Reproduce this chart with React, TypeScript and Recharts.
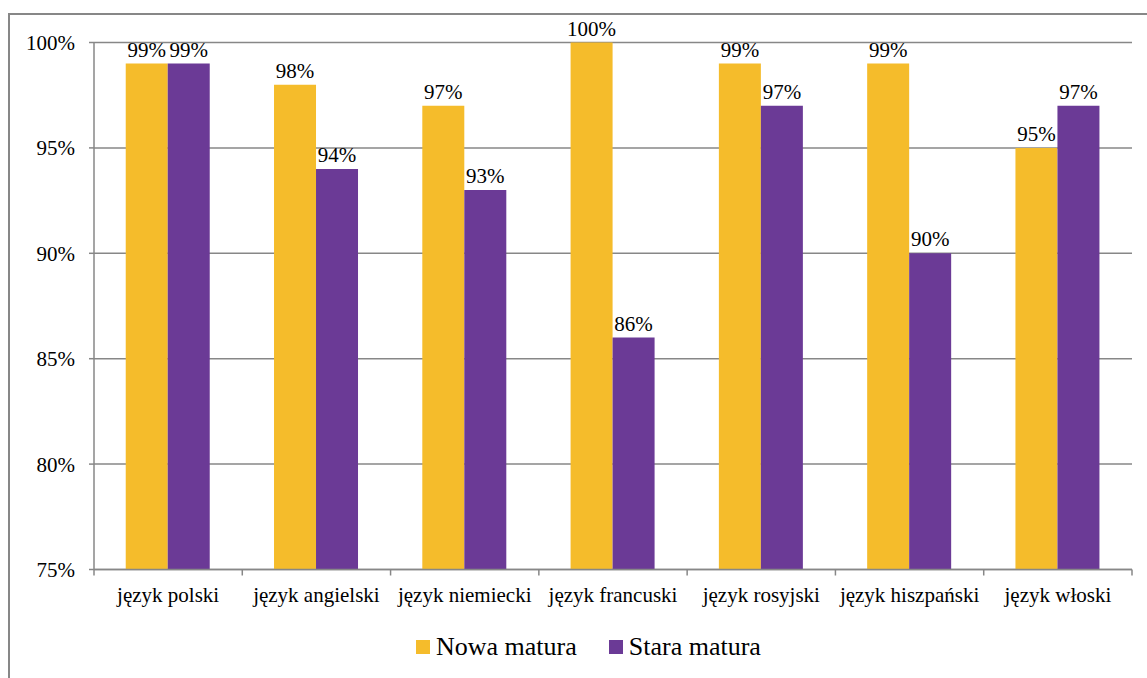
import React from "react";
import {
  BarChart,
  Bar,
  XAxis,
  YAxis,
  CartesianGrid,
  Legend,
  LabelList,
} from "recharts";

// values (percent)
const categories = [
  "język polski",
  "język angielski",
  "język niemiecki",
  "język francuski",
  "język rosyjski",
  "język hiszpański",
  "język włoski",
];
const nowaMatura = [99, 98, 97, 100, 99, 99, 95];
const staraMatura = [99, 94, 93, 86, 97, 90, 97];
const yTicks = [75, 80, 85, 90, 95, 100];

const seriesNames = { nowa: "Nowa matura", stara: "Stara matura" };

const FONT = "Liberation Serif, Times New Roman, serif";
const GRAY = "#878787";
const YELLOW = "#F5BC2B";
const PURPLE = "#6B3A96";

const data = categories.map((name, i) => ({
  name,
  nowa: nowaMatura[i],
  stara: staraMatura[i],
}));

const textStyle = { fontSize: 21, fontFamily: FONT, fill: "#000" };

function CategoryTick(props: any) {
  const { x, y, payload, index } = props;
  const half = payload?.offset || 74.15;
  const isLast = index === categories.length - 1;
  return (
    <g>
      <line x1={x - half} y1={y} x2={x - half} y2={y + 6} stroke={GRAY} strokeWidth={1.5} />
      {isLast && (
        <line x1={x + half} y1={y} x2={x + half} y2={y + 6} stroke={GRAY} strokeWidth={1.5} />
      )}
      <text x={x} y={y + 32} textAnchor="middle" style={textStyle}>
        {payload.value}
      </text>
    </g>
  );
}

function LegendContent(props: any) {
  const items = props.payload || [];
  return (
    <div style={{ display: "flex", alignItems: "center", height: 28, fontFamily: FONT }}>
      {items.map((it: any, i: number) => (
        <div
          key={it.value}
          style={{ display: "flex", alignItems: "center", marginLeft: i === 0 ? 0 : 32 }}
        >
          <span style={{ width: 14, height: 14, background: it.color, marginRight: 6 }} />
          <span style={{ fontSize: 26, lineHeight: "28px", color: "#000" }}>{it.value}</span>
        </div>
      ))}
    </div>
  );
}

export default function App() {
  return (
    <div
      style={{
        position: "absolute",
        left: 0,
        top: 0,
        width: 1147,
        height: 678,
        overflow: "hidden",
        background: "#fff",
        fontFamily: FONT,
      }}
    >
      {/* outer chart frame, cut off at the right and bottom like the reference */}
      <div
        style={{
          position: "absolute",
          left: 8,
          top: 12.5,
          width: 1300,
          height: 800,
          border: `2px solid ${GRAY}`,
          boxSizing: "border-box",
        }}
      />
      <div style={{ position: "absolute", left: 0, top: 0 }}>
        <BarChart
          width={1147}
          height={678}
          data={data}
          margin={{ top: 42.5, right: 15, bottom: 78.5, left: 0 }}
          barCategoryGap="21.4%"
          barGap={0}
          style={{ fontFamily: FONT }}
        >
          <CartesianGrid vertical={false} stroke={GRAY} strokeWidth={1.5} />
          <XAxis
            dataKey="name"
            height={30}
            interval={0}
            tickSize={0}
            tickMargin={0}
            tickLine={false}
            axisLine={{ stroke: GRAY, strokeWidth: 1.5 }}
            tick={(p: any) => <CategoryTick {...p} />}
          />
          <YAxis
            width={94}
            domain={[75, 100]}
            ticks={yTicks}
            interval={0}
            tickSize={5}
            tickMargin={14}
            tickFormatter={(v: number) => `${v}%`}
            axisLine={{ stroke: GRAY, strokeWidth: 1.5 }}
            tickLine={{ stroke: GRAY, strokeWidth: 1.5 }}
            tick={textStyle}
          />
          <Legend
            layout="horizontal"
            verticalAlign="middle"
            align="center"
            content={(p: any) => <LegendContent {...p} />}
            wrapperStyle={{ position: "absolute", left: 416, top: 633, width: "auto", height: 28 }}
          />
          <Bar dataKey="nowa" name={seriesNames.nowa} fill={YELLOW} isAnimationActive={false}>
            <LabelList
              dataKey="nowa"
              position="top"
              offset={7}
              formatter={(v: any) => `${v}%`}
              style={textStyle}
            />
          </Bar>
          <Bar dataKey="stara" name={seriesNames.stara} fill={PURPLE} isAnimationActive={false}>
            <LabelList
              dataKey="stara"
              position="top"
              offset={7}
              formatter={(v: any) => `${v}%`}
              style={textStyle}
            />
          </Bar>
        </BarChart>
      </div>
    </div>
  );
}
